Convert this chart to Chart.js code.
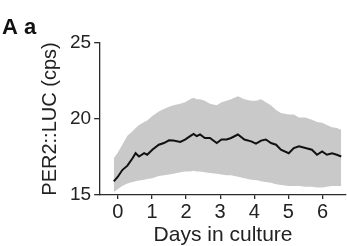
<!DOCTYPE html>
<html>
<head>
<meta charset="utf-8">
<script src="https://cdn.jsdelivr.net/npm/chart.js@4/dist/chart.umd.min.js"></script>
<style>
  body { margin: 0; background: #fff; }
  #wrap { width: 347px; height: 246px; }
</style>
</head>
<body>
<div id="wrap"><canvas id="chartPer2" width="347" height="246"></canvas></div>
<script>
// dias em cultura e bioluminescência PER2::LUC (média e faixa sombreada)
const dias = [-0.12, 0.0, 0.13, 0.28, 0.43, 0.52, 0.62, 0.77, 0.86, 1.01, 1.2, 1.35, 1.5, 1.63, 1.83, 1.97,
  2.12, 2.22, 2.31, 2.41, 2.55, 2.7, 2.9, 3.04, 3.19, 3.32, 3.52, 3.71, 3.91, 4.05, 4.2, 4.34, 4.49,
  4.64, 4.78, 5.01, 5.16, 5.31, 5.5, 5.69, 5.84, 5.99, 6.13, 6.28, 6.42, 6.55];
const media = [15.9, 16.2, 16.64, 16.93, 17.42, 17.75, 17.53, 17.75, 17.65, 17.98, 18.31, 18.42, 18.6, 18.58, 18.49, 18.64,
  18.87, 19.02, 18.87, 18.98, 18.75, 18.75, 18.42, 18.65, 18.65, 18.75, 18.98, 18.65, 18.53, 18.38, 18.58, 18.65, 18.42,
  18.31, 17.98, 17.75, 18.09, 18.2, 18.09, 17.98, 17.65, 17.87, 17.65, 17.75, 17.65, 17.53];
const superior = [17.42, 17.8, 18.3, 18.9, 19.2, 19.4, 19.6, 19.8, 19.9, 20.2, 20.5, 20.65, 20.8, 20.9, 21.0, 21.1,
  21.3, 21.4, 21.3, 21.3, 21.2, 21.0, 20.9, 21.1, 21.2, 21.3, 21.5, 21.3, 21.2, 21.2, 21.3, 21.1, 20.9,
  20.6, 20.4, 20.3, 20.3, 20.1, 20.1, 19.95, 19.8, 19.75, 19.6, 19.45, 19.4, 19.3];
const inferior = [15.2, 15.4, 15.6, 15.75, 15.85, 15.9, 15.95, 16.0, 16.05, 16.1, 16.25, 16.3, 16.35, 16.4, 16.5, 16.55,
  16.55, 16.6, 16.55, 16.55, 16.5, 16.45, 16.4, 16.35, 16.3, 16.3, 16.2, 16.1, 16.0, 15.98, 15.9, 15.85, 15.8,
  15.7, 15.65, 15.6, 15.6, 15.6, 15.55, 15.55, 15.5, 15.5, 15.55, 15.6, 15.6, 15.6];
const xTicks = [0, 1, 2, 3, 4, 5, 6];
const yTicks = [15, 20, 25];

const pontos = arr => arr.map((v, i) => ({x: dias[i], y: v}));
const corEixo = '#2b2b2b';

Chart.defaults.font.family = "'Liberation Sans', Arial, sans-serif";
Chart.defaults.color = '#222';

// o chart.js desenha o dataset 0 por cima, então a média vem primeiro
new Chart(document.getElementById('chartPer2'), {
  type: 'line',
  data: {
    datasets: [
      {data: pontos(media), borderColor: '#111', borderWidth: 2, pointRadius: 0, fill: false, tension: 0},
      {data: pontos(superior), borderWidth: 0, pointRadius: 0, backgroundColor: '#c9c9c9', fill: '+1', tension: 0},
      {data: pontos(inferior), borderWidth: 0, pointRadius: 0, fill: false, tension: 0}
    ]
  },
  options: {
    responsive: false,
    animation: false,
    layout: {padding: {left: 2, right: 1, top: 0, bottom: 0}},
    plugins: {
      legend: {display: false},
      tooltip: {enabled: false},
      title: {
        display: true, text: 'A a', align: 'start', color: '#111',
        font: {size: 22, weight: 'bold', lineHeight: 1.0}, padding: {top: 17, bottom: 4}
      }
    },
    scales: {
      x: {
        type: 'linear', min: -0.52, max: 6.69,
        afterBuildTicks: s => { s.ticks = xTicks.map(v => ({value: v})); },
        ticks: {font: {size: 20, lineHeight: 1.0}, padding: 3, maxRotation: 0, autoSkip: false},
        grid: {drawOnChartArea: false, drawTicks: true, tickLength: 4, color: corEixo, lineWidth: 1.3},
        border: {display: true, color: corEixo, width: 1.3},
        title: {display: true, text: 'Days in culture', font: {size: 21, lineHeight: 1.0}, padding: {top: 0, bottom: 0}}
      },
      y: {
        min: 15, max: 25,
        afterBuildTicks: s => { s.ticks = yTicks.map(v => ({value: v})); },
        ticks: {font: {size: 19}, padding: 3},
        grid: {drawOnChartArea: false, drawTicks: true, tickLength: 6, color: corEixo, lineWidth: 1.3},
        border: {display: true, color: corEixo, width: 1.3},
        title: {display: true, text: 'PER2::LUC (cps)', font: {size: 20}, padding: {top: 36, bottom: 5}}
      }
    }
  }
});
</script>
</body>
</html>
